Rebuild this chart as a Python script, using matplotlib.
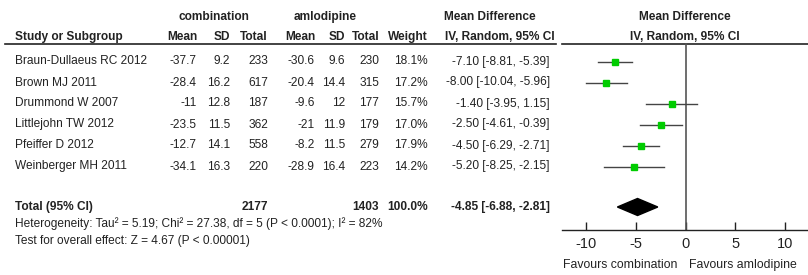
import matplotlib
matplotlib.use('Agg')
import matplotlib.pyplot as plt
from matplotlib.patches import Polygon

plt.rcParams['font.family'] = ['Liberation Sans Narrow', 'Liberation Sans', 'DejaVu Sans']

# study data
studies = ['Braun-Dullaeus RC 2012', 'Brown MJ 2011', 'Drummond W 2007',
           'Littlejohn TW 2012', 'Pfeiffer D 2012', 'Weinberger MH 2011']
comb_mean = ['-37.7', '-28.4', '-11', '-23.5', '-12.7', '-34.1']
comb_sd = ['9.2', '16.2', '12.8', '11.5', '14.1', '16.3']
comb_total = [233, 617, 187, 362, 558, 220]
aml_mean = ['-30.6', '-20.4', '-9.6', '-21', '-8.2', '-28.9']
aml_sd = ['9.6', '14.4', '12', '11.9', '11.5', '16.4']
aml_total = [230, 315, 177, 179, 279, 223]
weights = [18.1, 17.2, 15.7, 17.0, 17.9, 14.2]
md = [-7.10, -8.00, -1.40, -2.50, -4.50, -5.20]
ci_low = [-8.81, -10.04, -3.95, -4.61, -6.29, -8.25]
ci_high = [-5.39, -5.96, 1.15, -0.39, -2.71, -2.15]

# pooled
total_md = -4.85
total_low = -6.88
total_high = -2.81
heterogeneity = 'Heterogeneity: Tau\u00b2 = 5.19; Chi\u00b2 = 27.38, df = 5 (P < 0.0001); I\u00b2 = 82%'
overall = 'Test for overall effect: Z = 4.67 (P < 0.00001)'

W, H = 808, 275
fig = plt.figure(figsize=(W / 100, H / 100), dpi=100)

# table axes in pixel coordinates
tab = fig.add_axes([0, 0, 1, 1])
tab.set_xlim(0, W)
tab.set_ylim(H, 0)
tab.axis('off')

txt = '#222222'
fs = 8.6

def put(x, y, s, ha='right', bold=False):
    tab.text(x, y, s, ha=ha, va='center', fontsize=fs, color=txt,
             fontweight='bold' if bold else 'normal')

# headers
put(214, 17, 'combination', ha='center', bold=True)
put(325, 17, 'amlodipine', ha='center', bold=True)
put(490, 17, 'Mean Difference', ha='center', bold=True)
put(685, 17, 'Mean Difference', ha='center', bold=True)
hy = 37
put(15, hy, 'Study or Subgroup', ha='left', bold=True)
col_x = [197, 230, 268, 315, 345, 379, 428]
for x, h in zip(col_x, ['Mean', 'SD', 'Total', 'Mean', 'SD', 'Total', 'Weight']):
    put(x, hy, h, bold=True)
put(500, hy, 'IV, Random, 95% CI', ha='center', bold=True)
put(685, hy, 'IV, Random, 95% CI', ha='center', bold=True)
tab.plot([5, 556], [44, 44], color='#222222', lw=1.2)
tab.plot([562, 808], [44, 44], color='#222222', lw=1.2)

row_y = [61.5 + 21 * i for i in range(len(studies))]
total_y = 207

for i, y in enumerate(row_y):
    put(15, y, studies[i], ha='left')
    vals = [comb_mean[i], comb_sd[i], str(comb_total[i]),
            aml_mean[i], aml_sd[i], str(aml_total[i]), f'{weights[i]:.1f}%']
    for x, v in zip(col_x, vals):
        put(x, y, v)
    put(550, y, f'{md[i]:.2f} [{ci_low[i]:.2f}, {ci_high[i]:.2f}]')

put(15, total_y, 'Total (95% CI)', ha='left', bold=True)
put(268, total_y, str(sum(comb_total)), bold=True)
put(379, total_y, str(sum(aml_total)), bold=True)
put(428, total_y, '100.0%', bold=True)
put(550, total_y, f'{total_md:.2f} [{total_low:.2f}, {total_high:.2f}]', bold=True)
put(15, 224, heterogeneity, ha='left')
put(15, 241, overall, ha='left')

# forest plot axes
x0, x_10 = 685.7, 785.0
ppu = (x_10 - x0) / 10
left_px, axis_y = 561.7, 230
ax = fig.add_axes([left_px / W, (H - axis_y) / H, (W - left_px) / W, axis_y / H])
ax.set_xlim((left_px - x0) / ppu, (W - x0) / ppu)
ax.set_ylim(axis_y, 0)
ax.patch.set_alpha(0)
for s in ['top', 'right', 'left']:
    ax.spines[s].set_visible(False)
ax.spines['bottom'].set_color('#222222')
ax.spines['bottom'].set_linewidth(1.0)
ax.set_yticks([])
ax.set_xticks([-10, -5, 0, 5, 10])
ax.set_xticklabels(['-10', '-5', '0', '5', '10'])
ax.tick_params(axis='x', direction='in', length=6, width=1.0, color='#222222',
               labelsize=10.5, labelcolor=txt, pad=5)

ax.plot([0, 0], [44, axis_y], color='#555555', lw=1.2)
for i, y in enumerate(row_y):
    ax.plot([ci_low[i], ci_high[i]], [y, y], color='#444444', lw=1.0)
    ax.plot(md[i], y, marker='s', ms=5, color='#00cc00', mec='#00cc00')
dh = 8.5
ax.add_patch(Polygon([[total_low, total_y], [total_md, total_y - dh],
                      [total_high, total_y], [total_md, total_y + dh]],
                     closed=True, color='black'))

tab.text(620, 265, 'Favours combination', ha='center', va='center', fontsize=8.8, color=txt)
tab.text(743, 265, 'Favours amlodipine', ha='center', va='center', fontsize=8.8, color=txt)

fig.savefig('out.png', dpi=100)
